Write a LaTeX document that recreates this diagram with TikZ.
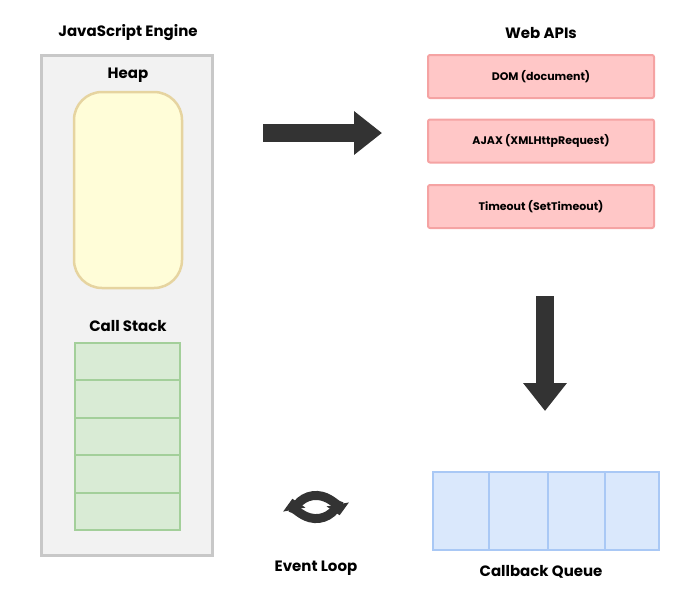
\documentclass[tikz,border=0pt]{standalone}
\usepackage{fontspec}
\setmainfont{Poppins}
\usetikzlibrary{arrows.meta}
\definecolor{enggray}{HTML}{F2F2F2}
\definecolor{engline}{HTML}{C8C8C8}
\definecolor{heapfill}{HTML}{FFFDD8}
\definecolor{heapline}{HTML}{E6D4A0}
\definecolor{stackfill}{HTML}{D9EBD5}
\definecolor{stackline}{HTML}{A3CF9A}
\definecolor{apifill}{HTML}{FFC7C7}
\definecolor{apiline}{HTML}{F5A3A3}
\definecolor{queuefill}{HTML}{DAE8FC}
\definecolor{queueline}{HTML}{A9C8F5}
\definecolor{arrowgray}{HTML}{333333}

\begin{document}
\begin{tikzpicture}[x=1pt,y=-1pt]
 \tikzstyle{title}=[font=\bfseries\fontsize{15}{17}\selectfont, text=black]
 \tikzstyle{apibox}=[draw=apiline, fill=apifill, line width=2pt, rounded corners=2pt, minimum width=226pt, minimum height=43pt, font=\bfseries\fontsize{11}{13}\selectfont]
 \tikzstyle{stackcell}=[draw=stackline, fill=stackfill, line width=2pt, minimum width=105pt, minimum height=37.4pt]
 \tikzstyle{queuecell}=[draw=queueline, fill=queuefill, line width=2pt, minimum height=78pt]
 \tikzstyle{bigarrow}=[-{Triangle[length=28pt,width=42pt]}, line width=18pt, arrowgray]
 \tikzstyle{looparrow}=[-{Triangle[length=11pt,width=22pt]}, line width=9pt, arrowgray]
 \useasboundingbox (0,0) rectangle (700,606);
 %
 \node[draw=engline, fill=enggray, line width=3pt, minimum width=171pt, minimum height=500pt] (engine) at (126.5,305) {};
 \node[title] (enginetitle) at (128,33) {JavaScript Engine};
 \node[title] (heaptitle) at (128,75) {Heap};
 \node[draw=heapline, fill=heapfill, line width=2.5pt, rounded corners=28pt, minimum width=108pt, minimum height=196pt] (heap) at (128,190) {};
 \node[title] (stacktitle) at (128,326) {Call Stack};
 \foreach \i in {0,...,4}
  \node[stackcell] (cell\i) at (127.5,361.7+37.4*\i) {};
 %
 \node[title] (apititle) at (541,33) {Web APIs};
 \node[apibox] (dom) at (541,76.5) {DOM (document)};
 \node[apibox] (ajax) at (541,141) {AJAX (XMLHttpRequest)};
 \node[apibox] (timeout) at (541,206.5) {Timeout (SetTimeout)};
 %
 \node[queuecell, minimum width=56pt] (q1) at (461,511) {};
 \node[queuecell, minimum width=59pt] (q2) at (518.5,511) {};
 \node[queuecell, minimum width=57pt] (q3) at (576.5,511) {};
 \node[queuecell, minimum width=54pt] (q4) at (632,511) {};
 \node[title] (queuetitle) at (541,572) {Callback Queue};
 %
 \coordinate (rstart) at (263,133);
 \coordinate (rend) at (382,133);
 \coordinate (dstart) at (545,296);
 \coordinate (dend) at (545,411);
 \draw[bigarrow] (rstart) -- (rend);
 \draw[bigarrow] (dstart) -- (dend);
 %
 \coordinate (loop) at (316,507);
 \draw[looparrow] ([shift={(15:24pt)}]loop) arc[start angle=-15, end angle=-170, radius=24pt];
 \draw[looparrow] ([shift={(195:24pt)}]loop) arc[start angle=165, end angle=10, radius=24pt];
 \node[title] (looptitle) at (316,568) {Event Loop};
\end{tikzpicture}
\end{document}
